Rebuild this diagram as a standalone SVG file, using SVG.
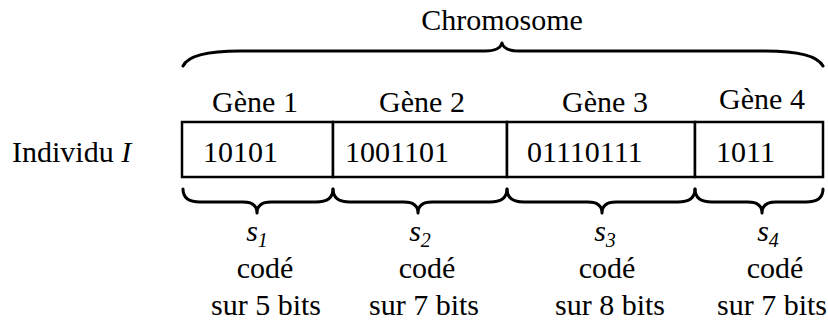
<svg xmlns="http://www.w3.org/2000/svg" width="828" height="325" viewBox="0 0 828 325">
<style>
text{font-family:'Liberation Serif','DejaVu Serif',serif;font-size:30px;fill:#000}
.c{text-anchor:middle}
.i{font-style:italic}
.sub{font-size:20px;font-style:italic}
.brace{fill:none;stroke:#000;stroke-width:3;stroke-linecap:round;stroke-linejoin:round}
.box{fill:#fff;stroke:#000;stroke-width:2.5}
</style>
<rect width="828" height="325" fill="#fff"/>
<g font-family="Liberation Serif, DejaVu Serif, serif">
<g id="chromosome-label"><text class="c" x="502" y="30">Chromosome</text></g>
<g id="connectors">
<path class="brace" d="M183,66 Q190,51 240,51 L485,51 Q500,51 502,43 Q504,51 519,51 L765,51 Q815,51 823,66"/>
<path class="brace" d="M183,189 Q183,202 200,202 L243,202 Q257,202 257,213 Q257,202 271,202 L316,202 Q333,202 333,189"/>
<path class="brace" d="M333,189 Q333,202 350,202 L404,202 Q418,202 418,213 Q418,202 432,202 L490,202 Q507,202 507,189"/>
<path class="brace" d="M507,189 Q507,202 524,202 L588,202 Q602,202 602,213 Q602,202 616,202 L678,202 Q695,202 695,189"/>
<path class="brace" d="M695,189 Q695,202 712,202 L748,202 Q762,202 762,213 Q762,202 776,202 L806,202 Q823,202 823,189"/>
</g>
<g id="individu"><text x="12" y="162" font-size="31">Individu <tspan class="i">I</tspan></text></g>
<g id="gene1">
<rect class="box" x="182" y="122" width="151" height="55"/>
<text class="c" x="255" y="112">Gène 1</text>
<text x="203" y="162">10101</text>
</g>
<g id="gene2">
<rect class="box" x="333" y="122" width="174" height="55"/>
<text class="c" x="422" y="112">Gène 2</text>
<text x="345" y="162">1001101</text>
</g>
<g id="gene3">
<rect class="box" x="507" y="122" width="188" height="55"/>
<text class="c" x="605" y="112">Gène 3</text>
<text x="527" y="162">01110111</text>
</g>
<g id="gene4">
<rect class="box" x="695" y="122" width="128" height="55"/>
<text class="c" x="762" y="109">Gène 4</text>
<text x="716" y="162">1011</text>
</g>
<g id="s1">
<text class="c i" x="257" y="241">s<tspan class="sub" dy="6">1</tspan></text>
<text class="c" x="265" y="278">codé</text>
<text class="c" x="266" y="315">sur 5 bits</text>
</g>
<g id="s2">
<text class="c i" x="420" y="241">s<tspan class="sub" dy="6">2</tspan></text>
<text class="c" x="427" y="278">codé</text>
<text class="c" x="424" y="315">sur 7 bits</text>
</g>
<g id="s3">
<text class="c i" x="605" y="241">s<tspan class="sub" dy="6">3</tspan></text>
<text class="c" x="607" y="278">codé</text>
<text class="c" x="610" y="315">sur 8 bits</text>
</g>
<g id="s4">
<text class="c i" x="768" y="241">s<tspan class="sub" dy="6">4</tspan></text>
<text class="c" x="775" y="278">codé</text>
<text class="c" x="772" y="315">sur 7 bits</text>
</g>
</g>
</svg>
